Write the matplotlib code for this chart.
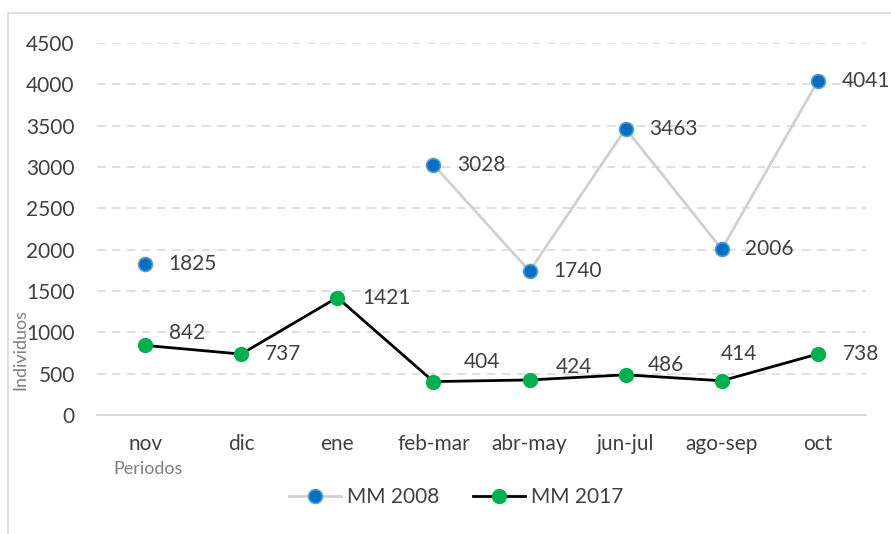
import numpy as np
import matplotlib
matplotlib.use("Agg")
import matplotlib.pyplot as plt
from matplotlib.patches import Rectangle

periods = ["nov", "dic", "ene", "feb-mar", "abr-may", "jun-jul", "ago-sep", "oct"]
mm2008 = [1825, np.nan, np.nan, 3028, 1740, 3463, 2006, 4041]
mm2017 = [842, 737, 1421, 404, 424, 486, 414, 738]

# label offsets (points) for each value label
off2008 = [(17, 0)] * 8
off2017 = [(17, 9), (17, 0), (18, 0), (22, 14), (19, 9), (16, 7), (-1, 19), (18, 0)]

plt.rcParams['font.family'] = ['Lato', 'DejaVu Sans']
TXT = "#404040"

fig = plt.figure(figsize=(8.91, 5.34), dpi=100)
ax = fig.add_axes([97 / 891, 1 - 415 / 534, (866 - 97) / 891, (415 - 43) / 534])

x = np.arange(len(periods))
ax.plot(x, mm2008, color="#d0d0d0", lw=2, marker="o", ms=10,
        mfc="#0070c0", mec="#5b9bd5", mew=1.2, label="MM 2008", zorder=3)
ax.plot(x, mm2017, color="black", lw=2, marker="o", ms=10,
        mfc="#00b050", mec="#00b050", label="MM 2017", zorder=3)

for i, v in enumerate(mm2008):
    if not np.isnan(v):
        ax.annotate(str(v), (x[i], v), xytext=off2008[i], textcoords="offset points",
                    fontsize=15, color=TXT, va="center", ha="left")
for i, v in enumerate(mm2017):
    ax.annotate(str(v), (x[i], v), xytext=off2017[i], textcoords="offset points",
                fontsize=15, color=TXT, va="center", ha="left")

ax.set_xlim(-0.5, len(periods) - 0.5)
ax.set_ylim(0, 4500)
ax.set_yticks(np.arange(0, 4501, 500))
ax.set_xticks(x)
ax.set_xticklabels(periods)
ax.tick_params(axis="both", length=0, labelsize=15, labelcolor=TXT)
ax.tick_params(axis="x", pad=14)
ax.tick_params(axis="y", pad=16)
for s in ["top", "right", "left"]:
    ax.spines[s].set_visible(False)
ax.spines["bottom"].set_color("#d0d0d0")
ax.spines["bottom"].set_linewidth(1.2)
for yv in np.arange(500, 4501, 500):
    ax.axhline(yv, color="#d9d9d9", lw=1.2, ls=(0, (5, 4)), zorder=1)

fig.text(20 / 891, 1 - 350 / 534, "Individuos", rotation=90, fontsize=13,
         color="#7f7f7f", ha="center", va="center")
fig.text(148 / 891, 1 - 469 / 534, "Periodos", fontsize=13, color="#7f7f7f",
         ha="center", va="center")

leg = fig.legend(loc="center", bbox_to_anchor=(456 / 891, 1 - 497 / 534), ncol=2,
                 frameon=False, fontsize=15, handlelength=2.5, columnspacing=1.6,
                 handletextpad=0.3)
for t in leg.get_texts():
    t.set_color(TXT)

fig.patches.append(Rectangle((8 / 891, -0.1), 1.2, 1 - 13 / 534 + 0.1,
                             transform=fig.transFigure, fill=False,
                             edgecolor="#d9d9d9", lw=1.2))

fig.savefig("out.png", dpi=100)
